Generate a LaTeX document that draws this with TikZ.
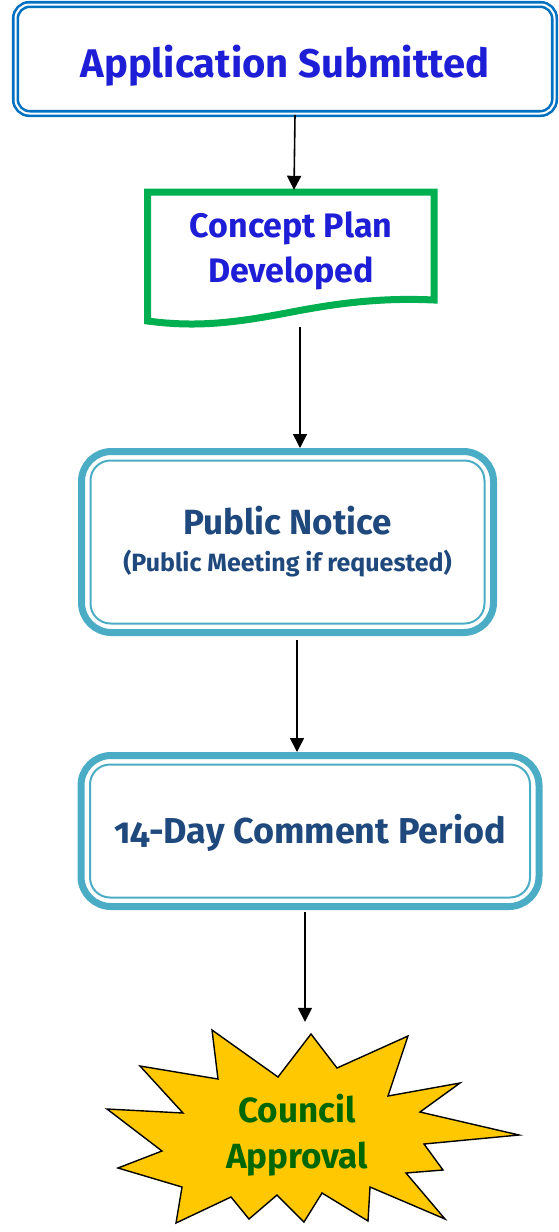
\documentclass[tikz,border=0pt]{standalone}
\usepackage{fontspec}
\setmainfont{Fira Sans}[Numbers=OldStyle]
\usetikzlibrary{arrows.meta, positioning}
\definecolor{appblue}{RGB}{0,112,192}
\definecolor{titleblue}{RGB}{30,30,215}
\definecolor{docgreen}{RGB}{0,176,80}
\definecolor{noticeteal}{RGB}{75,172,198}
\definecolor{noticetext}{RGB}{31,73,125}
\definecolor{burstyellow}{RGB}{255,200,0}
\definecolor{burstgreen}{RGB}{0,102,0}

\begin{document}
\begin{tikzpicture}[x=1pt, y=-1pt, >={Triangle[length=14pt,width=14pt]},
      flow/.style={->, line width=1.6pt, black},
      appbox/.style={draw=appblue, double=white, line width=2.6pt, double distance=2pt,
        rounded corners=14pt, text=titleblue, font=\bfseries\fontsize{40}{44}\selectfont},
      tealbox/.style={draw=noticeteal, line width=7pt, rounded corners=30pt,
        text=noticetext, align=center},
      innerline/.style={draw=noticeteal, line width=2pt, rounded corners=20pt},
      burst/.style={draw=black, line width=1.4pt, fill=burstyellow, line join=miter}]
      \useasboundingbox (0,0) rectangle (559,1232);

      % boxes
      \node[appbox, minimum width=539pt, minimum height=109pt, text height=36pt, text depth=0pt]
        (app) at (285,59) {Application Submitted};

      \draw[docgreen, line width=7pt, line join=miter]
        (147.5,192) -- (434,192) -- (434,300)
        .. controls (390,298) and (350,301) .. (297,311)
        .. controls (240,322) and (200,328) .. (147.5,321) -- cycle;
      \node[text=titleblue, align=center, minimum width=287pt, minimum height=122pt,
        font=\bfseries\fontsize{34}{45}\selectfont] (concept) at (291,251) {Concept Plan\\Developed};

      \node[tealbox, minimum width=412pt, minimum height=181pt, font=\bfseries\fontsize{35}{37}\selectfont]
        (notice) at (287.5,542) {Public Notice\\{\fontsize{25}{28}\selectfont (Public Meeting if requested)}};
      \draw[innerline] ([shift={(12.5pt,12.5pt)}]notice.south west)
        rectangle ([shift={(-12.5pt,-12.5pt)}]notice.north east);

      \node[tealbox, minimum width=458pt, minimum height=151pt, text height=24pt, text depth=0pt,
        font=\bfseries\fontsize{36}{40}\selectfont] (period) at (310,831) {14-Day Comment Period};
      \draw[innerline] ([shift={(12.5pt,12.5pt)}]period.south west)
        rectangle ([shift={(-12.5pt,-12.5pt)}]period.north east);

      \draw[burst] plot coordinates {(212,1030) (218,1079) (140,1066) (183,1113) (107,1109)
        (162,1151) (118,1168) (182,1187) (176,1223) (231,1197) (249,1219) (277,1195)
        (304,1222) (322,1193) (368,1221) (370,1187) (445,1219) (406,1173) (443,1170)
        (424,1144) (519,1135) (420,1112) (460,1083) (388,1096) (408,1036) (337,1068)
        (311,1034) (278,1077)} -- cycle;
      \node[text=burstgreen, align=center, minimum height=226pt,
        font=\bfseries\fontsize{35}{46}\selectfont] (approval) at (297,1135) {Council\\Approval};

      % arrows
      \draw[flow] ([xshift=10pt]app.south) -- ([xshift=3pt]concept.north);
      \draw[flow] ([xshift=9pt,yshift=-15pt]concept.south) -- ([xshift=12.5pt]notice.north);
      \draw[flow] ([xshift=9.5pt,yshift=-4pt]notice.south) -- ([xshift=-13pt]period.north);
      \draw[flow] ([xshift=-5pt,yshift=-2pt]period.south) -- ([xshift=8pt]approval.north);
    \end{tikzpicture}
\end{document}
